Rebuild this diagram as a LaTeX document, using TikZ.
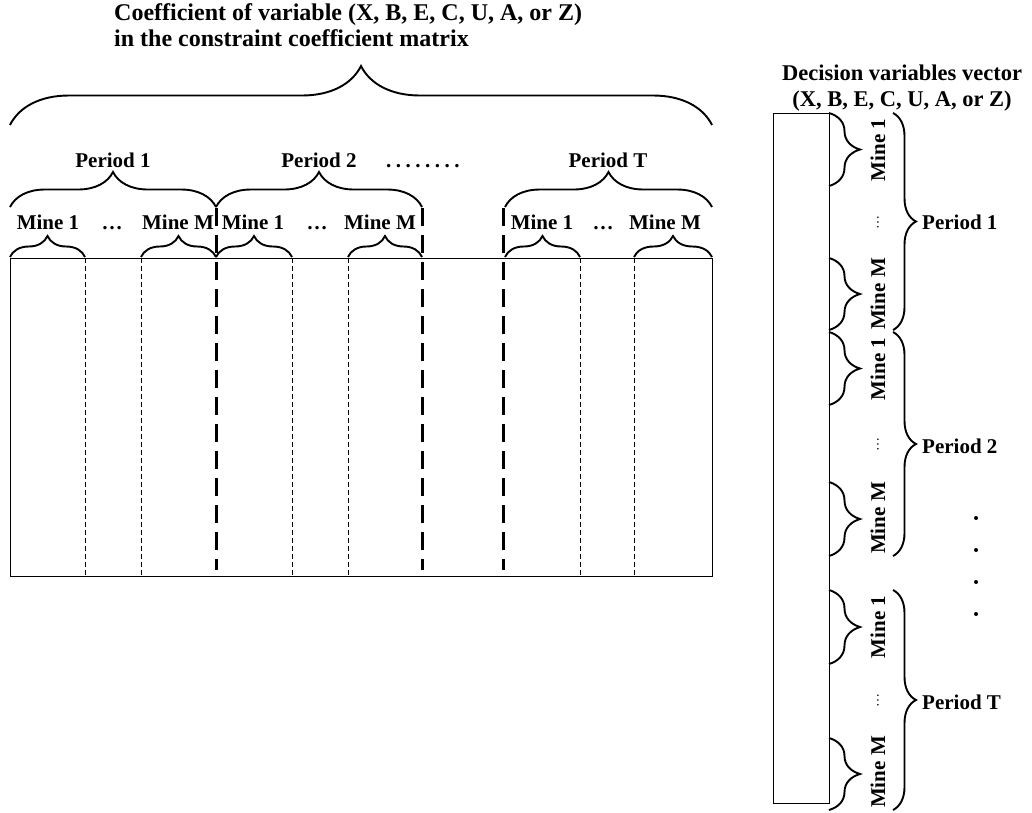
\documentclass[tikz,border=0pt]{standalone}
\usepackage{fontspec}
\setmainfont{Liberation Serif}
\usetikzlibrary{decorations.pathreplacing}

\begin{document}
\begin{tikzpicture}[x=1pt,y=-1pt,
  lbl/.style={font=\fontsize{21}{24}\selectfont\bfseries, inner sep=0pt},
  mlbl/.style={lbl, anchor=base},
  ttl/.style={font=\fontsize{#1}{26}\selectfont\bfseries, inner sep=0pt},
  ttl/.default=22.5,
  vdots/.style={font=\fontsize{14}{15}\selectfont, inner sep=0pt, rotate=90},
  curly/.style={decorate, decoration={brace, amplitude=#1}, line width=1.9pt},
  box/.style={draw, line width=1.2pt, inner sep=0pt, anchor=north west},
  thinsep/.style={line width=0.8pt, dash pattern=on 4.5pt off 3.5pt},
  thicksep/.style={line width=3pt, dash pattern=on 18pt off 9pt},
]
\useasboundingbox (0,0) rectangle (1032,812);

% ---------- constraint coefficient matrix ----------
\node[box, minimum width=702pt, minimum height=318pt] (mat) at (10,258) {};

% column separators between mines
\foreach \x [count=\i] in {85,141,292,348,580,634}
  \draw[thinsep] (\x,258) coordinate (ts\i) -- (\x,576) coordinate (tb\i);
% column separators between periods
\foreach \x [count=\i] in {216,422,503}
  \draw[thicksep] (\x,208) coordinate (ps\i) -- (\x,570) coordinate (pb\i);

% mine braces
\foreach \a/\b [count=\i] in {10/85,141/216,216/292,348/422,505/580,634/712}
  \draw[curly=21] (\a,257) coordinate (ma\i) -- (\b,257) coordinate (mb\i);

% mine labels
\node[mlbl] (m11) at (48,229) {Mine 1};
\node[mlbl] (m1d) at (112,229) {\ldots};
\node[mlbl] (m1M) at (178,229) {Mine M};
\node[mlbl] (m21) at (253,229) {Mine 1};
\node[mlbl] (m2d) at (317,229) {\ldots};
\node[mlbl] (m2M) at (380,229) {Mine M};
\node[mlbl] (mT1) at (542,229) {Mine 1};
\node[mlbl] (mTd) at (603,229) {\ldots};
\node[mlbl] (mTM) at (665,229) {Mine M};

% period braces
\draw[curly=35] (10,207) coordinate (pa1) -- (216,207) coordinate (pe1);
\draw[curly=35] (216,207) coordinate (pa2) -- (422,207) coordinate (pe2);
\draw[curly=35] (505,207) coordinate (pa3) -- (712,207) coordinate (pe3);

\node[mlbl] (p1) at (113,167) {Period 1};
\node[mlbl] (p2) at (319,167) {Period 2};
\node[lbl, anchor=base west] (pdots) at (386,167)
  {.\kern4.5pt.\kern4.5pt.\kern4.5pt.\kern4.5pt.\kern4.5pt.\kern4.5pt.\kern4.5pt.};
\node[mlbl] (pT) at (608,167) {Period T};

% overall brace and heading
\draw[curly=59] (10,125) coordinate (ba) -- (712,125) coordinate (bb);
\node[ttl=24, align=left, anchor=north west] (head) at (114,3)
  {Coefficient of variable (X, B, E, C, U, A, or Z)\\in the constraint coefficient matrix};

% ---------- decision variables vector ----------
\node[ttl, align=center] (vhead) at (902,88)
  {Decision variables vector\\(X, B, E, C, U, A, or Z)};
\node[box, minimum width=56pt, minimum height=690pt] (vec) at (773,113) {};

% mine braces along the vector
\foreach \a/\b [count=\i] in {113/186,258/330,332/405,482/556,590/664,738/810}
  \draw[curly=31] (829,\a) coordinate (va\i) -- (829,\b) coordinate (vb\i);

% rotated mine labels
\foreach \y/\t [count=\i] in {150/Mine 1,294/Mine M,369/Mine 1,518/Mine M,627/Mine 1,772/Mine M}
  \node[lbl, rotate=90] (vm\i) at (878,\y) {\t};
\foreach \y [count=\i] in {222,444,700}
  \node[vdots] (vd\i) at (878,\y) {\ldots};

% period braces along the vector
\draw[curly=23] (893,113) coordinate (vpa1) -- (893,330) coordinate (vpb1);
\draw[curly=23] (893,332) coordinate (vpa2) -- (893,556) coordinate (vpb2);
\draw[curly=23] (893,590) coordinate (vpa3) -- (893,810) coordinate (vpb3);

\node[lbl, anchor=west] (vp1) at (922,222) {Period 1};
\node[lbl, anchor=west] (vp2) at (922,446) {Period 2};
\node[lbl, anchor=west] (vpT) at (922,702) {Period T};

% vertical dots between the periods
\foreach \y [count=\i] in {518,550,582,614}
  \fill (976,\y) coordinate (dot\i) circle (2pt);
\end{tikzpicture}
\end{document}
